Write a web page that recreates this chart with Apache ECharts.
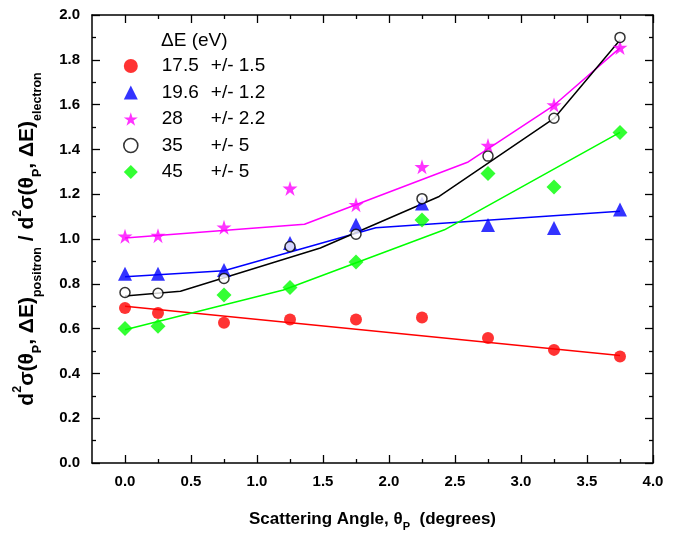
<!DOCTYPE html>
<html>
<head>
<meta charset="utf-8">
<script src="https://cdn.jsdelivr.net/npm/echarts@6/dist/echarts.min.js"></script>
<style>html,body{margin:0;padding:0;background:#fff}#chart{width:682px;height:537px}</style>
</head>
<body>
<div id="chart"></div>
<script>
// Scattering angles (degrees)
const angles = [0, 0.25, 0.75, 1.25, 1.75, 2.25, 2.75, 3.25, 3.75];
// Ratio data per energy bin
const e17 = [0.692, 0.670, 0.626, 0.641, 0.641, 0.650, 0.558, 0.505, 0.475];
const e19 = [0.845, 0.845, 0.862, 0.982, 1.064, 1.159, 1.063, 1.049, 1.132];
const e28 = [1.012, 1.015, 1.052, 1.226, 1.153, 1.322, 1.417, 1.598, 1.855];
const e35 = [0.761, 0.758, 0.824, 0.966, 1.021, 1.180, 1.370, 1.539, 1.900];
const e45 = [0.600, 0.611, 0.750, 0.784, 0.897, 1.085, 1.292, 1.232, 1.476];
// Fitted curves: [angle, ratio] vertices
const fit17 = [[0, 0.700], [3.75, 0.480]];
const fit19 = [[0, 0.832], [0.75, 0.858], [1.9, 1.050], [3.75, 1.124]];
const fit28 = [[0, 1.005], [1.36, 1.066], [2.6, 1.344], [3.25, 1.597], [3.75, 1.853]];
const fit35 = [[0, 0.745], [0.42, 0.767], [1.48, 0.960], [2.38, 1.190], [3.25, 1.538], [3.75, 1.888]];
const fit45 = [[0, 0.595], [1.2, 0.772], [2.42, 1.041], [3.75, 1.476]];
// Legend labels
const seriesNames = ['17.5 +/- 1.5', '19.6 +/- 1.2', '28 +/- 2.2', '35 +/- 5', '45 +/- 5'];
const legendLeft = ['17.5', '19.6', '28', '35', '45'];
const legendRight = ['+/- 1.5', '+/- 1.2', '+/- 2.2', '+/- 5', '+/- 5'];
// Tick values
const xMajorTicks = [0, 0.5, 1.0, 1.5, 2.0, 2.5, 3.0, 3.5, 4.0];
const xMinorTicks = [0.25, 0.75, 1.25, 1.75, 2.25, 2.75, 3.25, 3.75];

const colors = ['#ff0000', '#0000ff', '#ff00ff', '#000000', '#00ff00'];
const starPath = 'path://M50,0 L61.2,34.5 L97.6,34.5 L68.2,55.9 L79.4,90.5 L50,69.1 L20.6,90.5 L31.8,55.9 L2.4,34.5 L38.8,34.5 Z';
const symbols = ['circle', 'triangle', starPath, 'circle', 'diamond'];
const symSizes = [12, 14, 15, 10, 15];
const dataSets = [e17, e19, e28, e35, e45];
const fits = [fit17, fit19, fit28, fit35, fit45];

const FONT = 'Liberation Sans, Arial, sans-serif';

const series = [];
fits.forEach((f, i) => {
  series.push({
    type: 'line', name: 'fit' + i, data: f, showSymbol: false, silent: true,
    lineStyle: { color: colors[i], width: 1.5 }, z: 2, animation: false
  });
});
dataSets.forEach((d, i) => {
  const item = i === 3
    ? { color: '#ffffff', borderColor: '#000000', borderWidth: 1.5 }
    : { color: colors[i] };
  series.push({
    type: 'scatter', name: seriesNames[i],
    data: angles.map((a, k) => [a, d[k]]),
    symbol: symbols[i], symbolSize: symSizes[i],
    itemStyle: item, z: 3, animation: false
  });
});

const legendData = seriesNames.map((n, i) => ({
  name: n,
  itemStyle: i === 3 ? { color: '#ffffff', borderColor: '#000000', borderWidth: 1.6 } : { color: colors[i], borderWidth: 0 }
}));

const tickLabelStyle = { fontFamily: FONT, fontWeight: 'bold', fontSize: 15, color: '#000' };

const chart = echarts.init(document.getElementById('chart'), null, { renderer: 'canvas' });
chart.setOption({
  animation: false,
  backgroundColor: '#fff',
  title: {
    text: 'ΔE (eV)', left: 161, top: 31, padding: 0,
    textStyle: { fontFamily: FONT, fontWeight: 'normal', fontSize: 19, color: '#000' }
  },
  legend: {
    data: legendData, orient: 'vertical', left: 123, top: 56, padding: 0,
    itemWidth: 14, itemHeight: 14, itemGap: 6.5,
    formatter: function (name) {
      const i = seriesNames.indexOf(name);
      return '{a|' + legendLeft[i] + '}{b|' + legendRight[i] + '}';
    },
    textStyle: {
      fontFamily: FONT, fontSize: 19, color: '#000', lineHeight: 20,
      rich: {
        a: { fontFamily: FONT, fontSize: 19, color: '#000', width: 49, lineHeight: 20, padding: [0, 0, 0, 19] },
        b: { fontFamily: FONT, fontSize: 19, color: '#000', lineHeight: 20 }
      }
    }
  },
  grid: { left: 92, right: 29, top: 15, bottom: 70 },
  xAxis: [
    {
      type: 'value', min: -0.25, max: 4, position: 'bottom',
      name: '{m|Scattering Angle, θ}{s|P}{m|  (degrees)}',
      nameLocation: 'middle', nameGap: 43,
      nameTextStyle: {
        rich: {
          m: { fontFamily: FONT, fontWeight: 'bold', fontSize: 17, color: '#000', lineHeight: 26, verticalAlign: 'middle' },
          s: { fontFamily: FONT, fontWeight: 'bold', fontSize: 11, color: '#000', lineHeight: 26, verticalAlign: 'bottom' }
        }
      },
      axisLine: { onZero: false, lineStyle: { color: '#000', width: 1.5 } },
      axisTick: { inside: true, length: 8, customValues: xMajorTicks, lineStyle: { color: '#000', width: 1.3 } },
      axisLabel: { customValues: xMajorTicks, margin: 11, formatter: v => v.toFixed(1), ...tickLabelStyle },
      splitLine: { show: false }
    },
    {
      type: 'value', min: -0.25, max: 4, position: 'bottom',
      axisLine: { show: false, onZero: false },
      axisTick: { inside: true, length: 4, customValues: xMinorTicks, lineStyle: { color: '#000', width: 1.3 } },
      axisLabel: { show: false }, splitLine: { show: false }
    },
    {
      type: 'value', min: -0.25, max: 4, position: 'top',
      axisLine: { onZero: false, lineStyle: { color: '#000', width: 1.5 } },
      axisTick: { inside: true, length: 8, customValues: xMajorTicks, lineStyle: { color: '#000', width: 1.3 } },
      axisLabel: { show: false }, splitLine: { show: false }
    },
    {
      type: 'value', min: -0.25, max: 4, position: 'top',
      axisLine: { show: false, onZero: false },
      axisTick: { inside: true, length: 4, customValues: xMinorTicks, lineStyle: { color: '#000', width: 1.3 } },
      axisLabel: { show: false }, splitLine: { show: false }
    }
  ],
  yAxis: [
    {
      type: 'value', min: 0, max: 2, interval: 0.2, position: 'left',
      name: '{m|d}{p|2}{m|σ(θ}{s|P}{m|, ΔE)}{s|positron}{m| / d}{p|2}{m|σ(θ}{s|P}{m|, ΔE)}{s|electron}',
      nameLocation: 'middle', nameRotate: 90, nameGap: 48,
      nameTextStyle: {
        rich: {
          m: { fontFamily: FONT, fontWeight: 'bold', fontSize: 21, color: '#000', lineHeight: 33, verticalAlign: 'middle' },
          s: { fontFamily: FONT, fontWeight: 'bold', fontSize: 12.5, color: '#000', lineHeight: 33, verticalAlign: 'bottom' },
          p: { fontFamily: FONT, fontWeight: 'bold', fontSize: 12.5, color: '#000', lineHeight: 33, verticalAlign: 'top' }
        }
      },
      axisLine: { onZero: false, lineStyle: { color: '#000', width: 1.5 } },
      axisTick: { inside: true, length: 8, lineStyle: { color: '#000', width: 1.3 } },
      minorTick: { show: true, splitNumber: 2, length: 4, lineStyle: { color: '#000', width: 1.3 } },
      axisLabel: { margin: 12, formatter: v => v.toFixed(1), ...tickLabelStyle },
      splitLine: { show: false }, minorSplitLine: { show: false }
    },
    {
      type: 'value', min: 0, max: 2, interval: 0.2, position: 'right',
      axisLine: { onZero: false, lineStyle: { color: '#000', width: 1.5 } },
      axisTick: { inside: true, length: 8, lineStyle: { color: '#000', width: 1.3 } },
      minorTick: { show: true, splitNumber: 2, length: 4, lineStyle: { color: '#000', width: 1.3 } },
      axisLabel: { show: false }, splitLine: { show: false }, minorSplitLine: { show: false }
    }
  ],
  series: series
});
</script>
</body>
</html>
